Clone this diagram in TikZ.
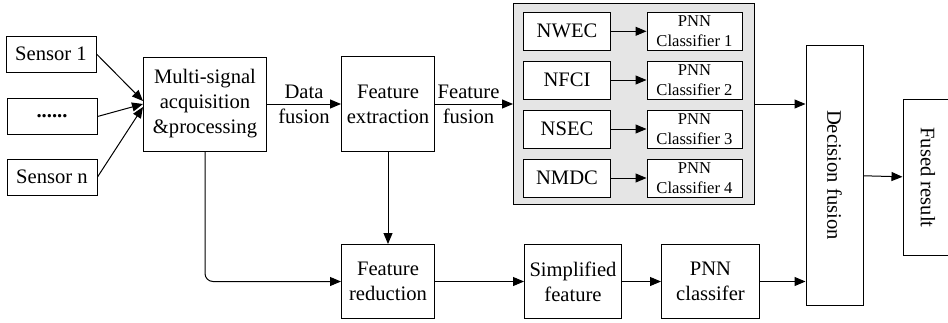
\documentclass[tikz,border=0pt]{standalone}
\usepackage{fontspec}
\setmainfont{Liberation Serif}
\usepackage{graphicx}
\usepackage{tikz}
\usetikzlibrary{positioning}
\usetikzlibrary{arrows.meta}
\tikzset{process/.style={rectangle, draw, line width=0.5pt, align=center, inner sep=1pt, fill=white}, arrow/.style={-{Triangle[length=5.5pt,width=4.5pt]}, line width=0.5pt}}

\begin{document}
\begin{tikzpicture}[
    x=0.5pt, y=-0.5pt,
    font=\fontsize{10.3}{12.5}\selectfont,
    sensor/.style={process, minimum width=45pt, minimum height=18pt},
    feat/.style={process, minimum width=43.5pt, minimum height=19pt},
    clf/.style={process, minimum width=47.5pt, minimum height=19pt, font=\fontsize{8.3}{10}\selectfont},
    panel/.style={rectangle, draw, line width=0.5pt, fill=black!10, minimum width=120.5pt, minimum height=100.5pt}
]
\useasboundingbox (0,0) rectangle (948,322);

% Nodes
\node[sensor] (sensor1) at (51,54) {Sensor 1};
\node[sensor] (sensordots) at (52,116.5) {\textbf{......}};
\node[sensor] (sensorn) at (52,177) {Sensor n};
\node[process, minimum width=61.5pt, minimum height=47pt] (acquire) at (205,104) {Multi-signal\\acquisition\\\&processing};
\node[process, minimum width=46.5pt, minimum height=47.5pt] (extract) [right=37pt of acquire] {Feature\\extraction};
\node[panel] (group) [right=39pt of extract] {};
\node[feat] (nwec) at (567,31.3) {NWEC};
\node[feat] (nfci) at (567,80) {NFCI};
\node[feat] (nsec) at (567,129) {NSEC};
\node[feat] (nmdc) at (567,178) {NMDC};
\node[clf] (clf1) at (694.5,31.3) {PNN\\Classifier 1};
\node[clf] (clf2) at (694.5,80) {PNN\\Classifier 2};
\node[clf] (clf3) at (694.5,129) {PNN\\Classifier 3};
\node[clf] (clf4) at (694.5,178) {PNN\\Classifier 4};
\node[process, minimum width=46.5pt, minimum height=37pt] (reduce) [below=46pt of extract] {Feature\\reduction};
\node[process, minimum width=48.5pt, minimum height=37pt] (simple) [right=44.5pt of reduce] {Simplified\\feature};
\node[process, minimum width=49pt, minimum height=37pt] (pnn) [right=19.5pt of simple] {PNN\\classifer};
\node[process, minimum width=28.5pt, minimum height=130pt] (decision) at (834.5,175) {\rotatebox{-90}{Decision fusion}};
\node[process, minimum width=25pt, minimum height=78pt] (fused) at (928,177.5) {\rotatebox{-90}{Fused result}};

% Paths
\draw[arrow] (sensor1.east) -- ([yshift=1.5pt]acquire.west);
\draw[arrow] (sensordots.east) -- (acquire.west);
\draw[arrow] (sensorn.east) -- ([yshift=-1.5pt]acquire.west);
\draw[arrow] (acquire) -- node[midway, align=center] {Data\\fusion} (extract);
\draw[arrow] (extract) -- node[pos=0.43, align=center] {Feature\\fusion} (group);
\draw[arrow] (nwec) -- (clf1);
\draw[arrow] (nfci) -- (clf2);
\draw[arrow] (nsec) -- (clf3);
\draw[arrow] (nmdc) -- (clf4);
\draw[arrow] (group.east) -- (group.east -| decision.west);
\draw[arrow] (decision) -- (fused);
\draw[arrow, rounded corners=4pt] (acquire.south) |- (reduce.west);
\draw[arrow] (extract) -- (reduce);
\draw[arrow] (reduce) -- (simple);
\draw[arrow] (simple) -- (pnn);
\draw[arrow] (pnn.east) -- (pnn.east -| decision.west);

\end{tikzpicture}
\end{document}
